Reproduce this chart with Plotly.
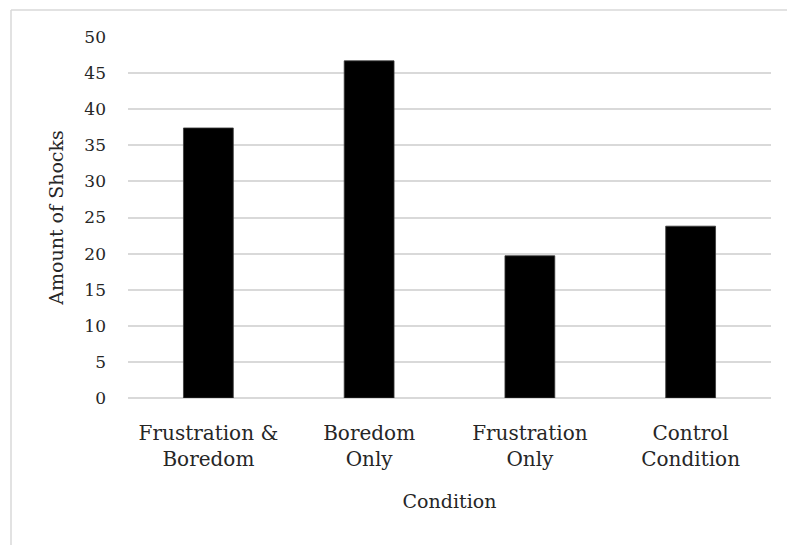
import plotly.graph_objects as go

# Category labels (two-line) and shock counts per condition
categories = ["Frustration &<br>Boredom", "Boredom<br>Only", "Frustration<br>Only", "Control<br>Condition"]
shocks = [37.4, 46.7, 19.7, 23.8]
y_ticks = [0, 5, 10, 15, 20, 25, 30, 35, 40, 45, 50]

FONT = "DejaVu Serif"
W, H = 787, 545
L, R, T, B = 128, 16, 37, 147
pw, ph = W - L - R, H - T - B

fig = go.Figure(
    go.Bar(
        x=categories,
        y=shocks,
        marker=dict(color="#000000", line=dict(color="#3a3a3a", width=0.8)),
        width=0.31,
    )
)

# Outer chart frame (top and left edges visible)
fx = (11 - L) / pw
fy = 1 + (T - 10) / ph
fig.add_shape(type="line", xref="paper", yref="paper", x0=fx, x1=(W - L) / pw + 0.01, y0=fy, y1=fy,
              line=dict(color="#d9d9d9", width=1.5))
fig.add_shape(type="line", xref="paper", yref="paper", x0=fx, x1=fx, y0=fy, y1=-B / ph - 0.01,
              line=dict(color="#d9d9d9", width=1.5))

fig.update_layout(
    width=W,
    height=H,
    margin=dict(l=L, r=R, t=T, b=B),
    paper_bgcolor="white",
    plot_bgcolor="white",
    font=dict(family=FONT, size=19, color="#262626"),
    showlegend=False,
    xaxis=dict(
        showgrid=False,
        showline=False,
        ticks="",
        ticklabelstandoff=21,
        tickfont=dict(size=20),
        title=dict(text="Condition", font=dict(size=19), standoff=24),
    ),
    yaxis=dict(
        range=[0, 50],
        tickvals=y_ticks,
        showgrid=True,
        gridcolor="#d9d9d9",
        gridwidth=1.5,
        zeroline=True,
        zerolinecolor="#d9d9d9",
        zerolinewidth=1.5,
        showline=False,
        ticks="",
        ticklabelstandoff=21,
        tickfont=dict(size=17),
        title=dict(text="Amount of Shocks", font=dict(size=19), standoff=15),
    ),
)

fig.write_html("out.html")
